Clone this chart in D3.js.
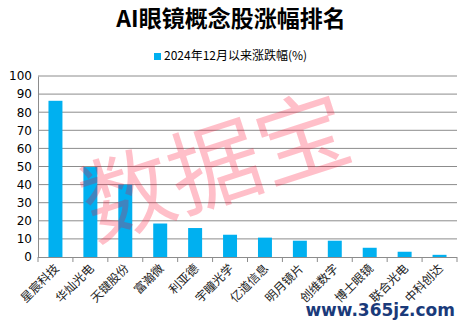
<!DOCTYPE html>
<html>
<head>
<meta charset="utf-8">
<script src="https://cdn.jsdelivr.net/npm/d3@7"></script>
<style>
body { margin: 0; background: #fff; }
</style>
</head>
<body>
<svg id="chart" width="462" height="322"></svg>
<script>
// data
const categories = ["星宸科技", "华灿光电", "天键股份", "富瀚微", "利亚德", "宇瞳光学", "亿道信息", "明月镜片", "创维数字", "博士眼镜", "联合光电", "中科创达"];
const changePct = [86.3, 49.7, 40.0, 18.5, 16.0, 12.3, 10.7, 9.0, 9.0, 5.1, 2.9, 1.2];
const yTicks = [0, 10, 20, 30, 40, 50, 60, 70, 80, 90, 100];
const seriesName = "2024年12月以来涨跌幅(%)";
const titleText = "AI眼镜概念股涨幅排名";

// layout
const width = 462, height = 322;
const plot = { left: 38, right: 457, top: 76, bottom: 257 };
const barColor = "#00b0f0";
const gridColor = "#8c8c8c";

const svg = d3.select("#chart");

const x = d3.scaleBand()
    .domain(categories)
    .range([plot.left, plot.right])
    .paddingInner(0.6)
    .paddingOuter(0.3);
const y = d3.scaleLinear()
    .domain([0, 100])
    .range([plot.bottom, plot.top]);

// title
svg.append("text")
    .attr("x", width / 2)
    .attr("y", 27)
    .attr("text-anchor", "middle")
    .attr("font-family", "'Noto Sans CJK SC', sans-serif")
    .attr("font-weight", "bold")
    .attr("font-size", 23)
    .attr("fill", "#000")
    .text(titleText);

// legend
svg.append("rect")
    .attr("x", 154).attr("y", 53)
    .attr("width", 7).attr("height", 7)
    .attr("fill", barColor);
svg.append("text")
    .attr("x", 164).attr("y", 59.5)
    .attr("font-family", "'Noto Sans CJK SC', sans-serif")
    .attr("font-size", 12)
    .attr("fill", "#000")
    .text(seriesName);

// gridlines
svg.append("g")
    .selectAll("line")
    .data(yTicks.filter(d => d > 0))
    .join("line")
    .attr("x1", plot.left).attr("x2", plot.right)
    .attr("y1", d => y(d)).attr("y2", d => y(d))
    .attr("stroke", gridColor)
    .attr("stroke-width", 1);

// y axis
const yAxis = svg.append("g")
    .attr("transform", `translate(${plot.left},0)`)
    .call(d3.axisLeft(y).tickValues(yTicks).tickSize(0).tickPadding(6));
yAxis.select(".domain").attr("stroke", gridColor);
yAxis.selectAll("text")
    .attr("font-family", "'DejaVu Sans', sans-serif")
    .attr("font-size", 12)
    .attr("fill", "#000");

// bars
svg.append("g")
    .selectAll("rect")
    .data(changePct)
    .join("rect")
    .attr("x", (d, i) => x(categories[i]))
    .attr("y", d => y(d))
    .attr("width", x.bandwidth())
    .attr("height", d => y(0) - y(d))
    .attr("fill", barColor);

// x axis with boundary ticks
const step = x.step();
const xAxis = svg.append("g");
xAxis.append("line")
    .attr("x1", plot.left).attr("x2", plot.right)
    .attr("y1", plot.bottom + 0.5).attr("y2", plot.bottom + 0.5)
    .attr("stroke", gridColor);
xAxis.selectAll("line.tick")
    .data(d3.range(categories.length + 1))
    .join("line")
    .attr("class", "tick")
    .attr("x1", i => plot.left + i * step).attr("x2", i => plot.left + i * step)
    .attr("y1", plot.bottom).attr("y2", plot.bottom + 5)
    .attr("stroke", gridColor);
xAxis.selectAll("text")
    .data(categories)
    .join("text")
    .attr("transform", d => `translate(${x(d) + x.bandwidth() / 2 + 2},${plot.bottom + 10}) rotate(-45)`)
    .attr("text-anchor", "end")
    .attr("dominant-baseline", "middle")
    .attr("font-family", "'Noto Sans CJK SC', serif")
    .attr("font-size", 12)
    .attr("fill", "#222")
    .text(d => d);

// watermarks
svg.append("text")
    .attr("transform", "translate(94,241) rotate(-18)")
    .attr("font-family", "'Noto Sans CJK SC', sans-serif")
    .attr("font-size", 92)
    .attr("fill", "rgba(255,0,40,0.25)")
    .text("数据宝");
svg.append("text")
    .attr("x", 455).attr("y", 316)
    .attr("text-anchor", "end")
    .attr("font-family", "'DejaVu Sans', sans-serif")
    .attr("font-weight", "bold")
    .attr("font-size", 17)
    .attr("fill", "#1a3a7a")
    .text("www.365jz.com");
</script>
</body>
</html>
